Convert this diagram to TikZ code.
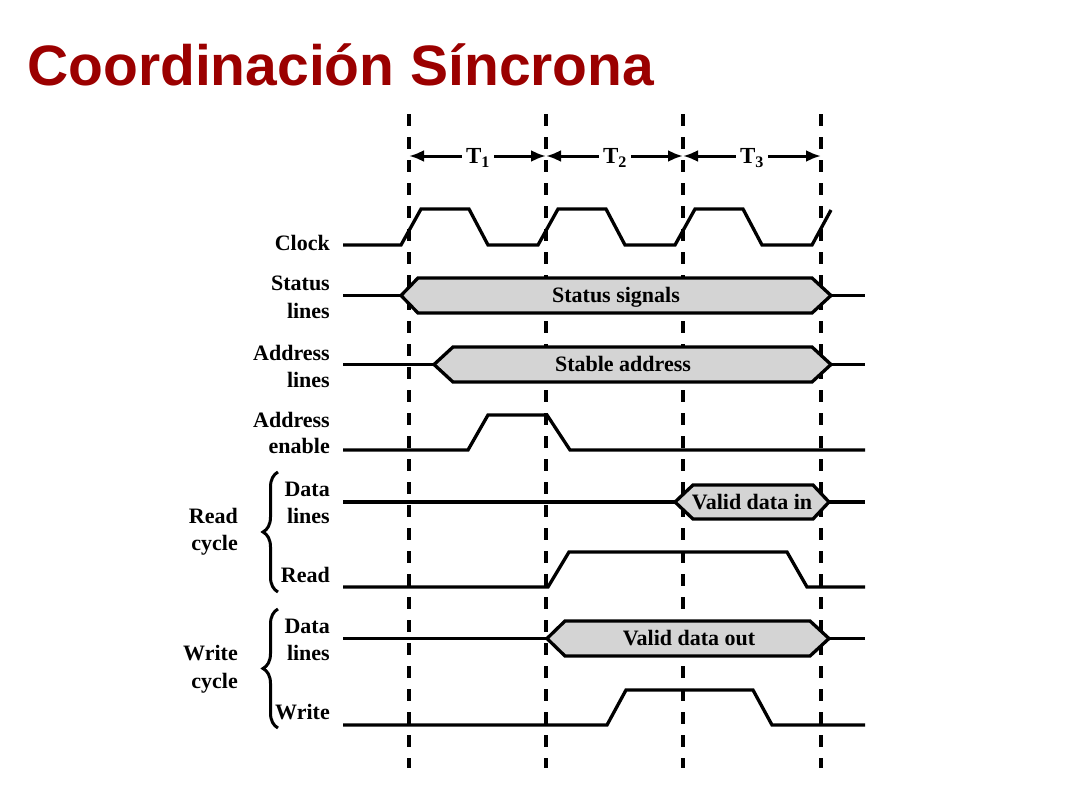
\documentclass[tikz,border=0pt]{standalone}
\usepackage{fontspec}
\setmainfont{Liberation Serif}
\newfontfamily\titlefont{Liberation Sans}
\usetikzlibrary{arrows.meta,decorations.pathreplacing}
\definecolor{titlered}{RGB}{155,0,0}
\definecolor{busgray}{RGB}{212,212,212}
\begin{document}
\begin{tikzpicture}[x=1pt,y=-1pt,
  sig/.style={line width=3.3pt},
  bus/.style={line width=3.3pt,fill=busgray},
  grid/.style={line width=3.2pt,dash pattern=on 12pt off 11pt},
  lab/.style={font=\fontsize{22}{26}\selectfont\bfseries,anchor=base east,inner sep=0pt},
  bustext/.style={font=\fontsize{22}{26}\selectfont\bfseries,anchor=base,inner sep=0pt},
  period/.style={line width=3pt,-{Latex[length=15pt,width=12pt]}},
  brc/.style={line width=3pt,decorate,decoration={brace,amplitude=15pt}},
  tlab/.style={font=\fontsize{23}{26}\selectfont\bfseries,inner xsep=4pt,inner ysep=2pt,fill=white}
]
\useasboundingbox (0,0) rectangle (1066,800);
% title
\node[anchor=base west,inner sep=0pt,text=titlered,font=\titlefont\fontsize{57}{60}\selectfont\bfseries] (title) at (27,85) {Coordinación Síncrona};

% dashed time lines
\foreach \n/\x in {a/409,b/546,c/683,d/821}{
  \coordinate (top\n) at (\x,114);
  \coordinate (bot\n) at (\x,768);
  \draw[grid] (top\n) -- (bot\n);
}

% period arrows
\coordinate (pa) at (409,156); \coordinate (pb) at (546,156);
\coordinate (pc) at (683,156); \coordinate (pd) at (821,156);
\node[tlab] (t1) at (478,158) {T\textsubscript{1}};
\node[tlab] (t2) at (615,158) {T\textsubscript{2}};
\node[tlab] (t3) at (752,158) {T\textsubscript{3}};
\draw[period] (t1.west |- pa) -- (pa); \draw[period] (t1.east |- pb) -- (pb);
\draw[period] (t2.west |- pb) -- (pb); \draw[period] (t2.east |- pc) -- (pc);
\draw[period] (t3.west |- pc) -- (pc); \draw[period] (t3.east |- pd) -- (pd);

% labels
\node[lab] (lclock) at (330,250) {Clock};
\node[lab] (lstat1) at (330,290) {Status};
\node[lab] (lstat2) at (330,318) {lines};
\node[lab] (ladd1) at (330,360) {Address};
\node[lab] (ladd2) at (330,387) {lines};
\node[lab] (len1) at (330,427) {Address};
\node[lab] (len2) at (330,453) {enable};
\node[lab] (lrd1) at (330,496) {Data};
\node[lab] (lrd2) at (330,523) {lines};
\node[lab] (lread) at (330,582) {Read};
\node[lab] (lwd1) at (330,633) {Data};
\node[lab] (lwd2) at (330,660) {lines};
\node[lab] (lwrite) at (330,719) {Write};
\node[lab] (rc1) at (238,523) {Read};
\node[lab] (rc2) at (238,550) {cycle};
\node[lab] (wc1) at (238,660) {Write};
\node[lab] (wc2) at (238,688) {cycle};

% braces
\draw[brc] (278,592) -- (278,472);
\draw[brc] (278,728) -- (278,609);

% clock
\draw[sig] (343,245) -- (401,245) -- (421,209) -- (469,209) -- (488,245)
  -- (538,245) -- (558,209) -- (606,209) -- (625,245)
  -- (675,245) -- (695,209) -- (743,209) -- (762,245)
  -- (812,245) -- (831,210);

% status lines
\draw[sig] (343,295.5) -- (401,295.5);
\draw[sig] (831,295.5) -- (865,295.5);
\draw[bus] (401,295.5) -- (418,278) -- (812,278) -- (831,295.5) -- (812,313) -- (418,313) -- cycle;
\node[bustext] (tstat) at (616,302.5) {Status signals};

% address lines
\draw[sig] (343,364.5) -- (434,364.5);
\draw[sig] (831,364.5) -- (865,364.5);
\draw[bus] (434,364.5) -- (453,347) -- (812,347) -- (831,364.5) -- (812,382) -- (453,382) -- cycle;
\node[bustext] (taddr) at (623,371.5) {Stable address};

% address enable
\draw[sig] (343,450) -- (468,450) -- (488,415) -- (547,415) -- (570,450) -- (865,450);

% read data lines
\draw[sig] (343,502) -- (675,502);
\draw[sig] (829,502) -- (865,502);
\draw[bus] (675,502) -- (693,485) -- (813,485) -- (829,502) -- (813,519) -- (693,519) -- cycle;
\node[bustext] (tdin) at (752,509) {Valid data in};

% read
\draw[sig] (343,587) -- (548,587) -- (569,552) -- (787,552) -- (807,587) -- (865,587);

% write data lines
\draw[sig] (343,638.5) -- (547,638.5);
\draw[sig] (829,638.5) -- (865,638.5);
\draw[bus] (547,638.5) -- (565,621) -- (810,621) -- (829,638.5) -- (810,656) -- (565,656) -- cycle;
\node[bustext] (tdout) at (689,645.5) {Valid data out};

% write
\draw[sig] (343,725) -- (607,725) -- (626,690) -- (753,690) -- (772,725) -- (865,725);
\end{tikzpicture}
\end{document}
